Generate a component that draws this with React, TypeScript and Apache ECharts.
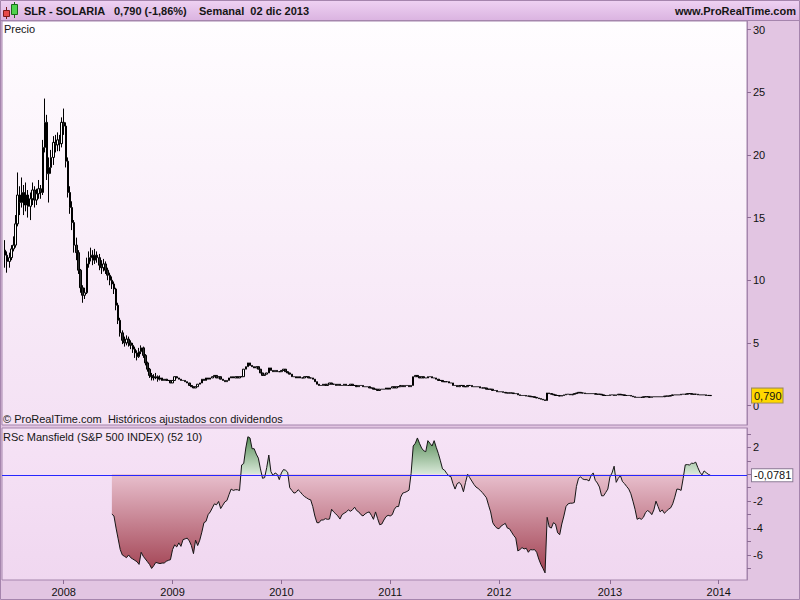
import React, { useEffect, useRef } from 'react';
import * as echarts from 'echarts';

// ---------- data ----------
const TICKER = 'SLR - SOLARIA';
const CHANGE_TEXT = '(-1,86%)';
const PERIOD_TEXT = 'Semanal  02 dic 2013';
const SITE = 'www.ProRealTime.com';
const PRICE_TITLE = 'Precio';
const FOOTNOTE = '\u00A9 ProRealTime.com  Hist\u00F3ricos ajustados con dividendos';
const RS_TITLE = 'RSc Mansfield (S&P 500 INDEX) (52 10)';

// weekly slots (Mondays); slot 0 is an empty slot before the first bar
const START_MONDAY = [2007, 5, 11];
const WEEK_SLOTS = 356;
const FIRST_BAR_SLOT = 1;
const YEAR_LABELS = ['2008', '2009', '2010', '2011', '2012', '2013', '2014'];

// weekly closes from 18 jun 2007 to 02 dic 2013
const CLOSES = [
  12.0, 11.5, 11.8, 12.5, 12.8, 14.5, 16.8, 16.2, 17.0, 16.0,
  16.8, 15.9, 16.5, 17.2, 16.4, 16.9, 17.3, 17.0, 20.6, 22.6,
  18.5, 19.0, 19.8, 21.0, 20.8, 21.2, 20.9, 22.6, 22.3, 19.5,
  17.0, 15.8, 14.6, 12.8, 12.2, 10.8, 9.4, 8.8, 9.0, 11.3,
  11.8, 12.0, 11.6, 12.0, 11.8, 11.2, 11.0, 11.3, 10.8, 10.4,
  10.0, 9.7, 9.3, 8.0, 6.8, 5.8, 5.2, 5.0, 5.3, 5.0,
  4.8, 4.5, 4.2, 3.9, 4.3, 4.6, 4.0, 3.4, 2.9, 2.4,
  2.3, 2.2, 2.3, 2.1, 2.2, 2.0, 2.1, 2.0, 2.0, 1.8,
  2.0, 2.3, 2.2, 2.1, 2.0, 2.0, 1.9, 1.8, 1.6, 1.5,
  1.4, 1.5, 1.7, 1.8, 2.1, 2.0, 2.2, 2.1, 2.2, 2.3,
  2.4, 2.2, 2.3, 2.1, 2.0, 1.9, 2.0, 2.2, 2.3, 2.2,
  2.3, 2.2, 2.3, 2.3, 2.9, 3.1, 3.4, 3.2, 3.1, 3.0,
  3.1, 2.9, 2.6, 2.4, 2.5, 2.6, 3.0, 2.8, 2.7, 2.8,
  2.7, 2.7, 2.8, 2.9, 2.7, 2.6, 2.5, 2.3, 2.3, 2.2,
  2.3, 2.2, 2.2, 2.3, 2.3, 2.2, 2.2, 2.1, 1.9, 1.7,
  1.6, 1.6, 1.7, 1.6, 1.7, 1.8, 1.7, 1.7, 1.6, 1.7,
  1.6, 1.6, 1.7, 1.6, 1.6, 1.7, 1.6, 1.6, 1.5, 1.6,
  1.6, 1.5, 1.5, 1.5, 1.4, 1.4, 1.3, 1.3, 1.2, 1.3,
  1.3, 1.3, 1.4, 1.3, 1.4, 1.5, 1.4, 1.5, 1.5, 1.6,
  1.5, 1.6, 1.6, 1.5, 1.6, 2.3, 2.4, 2.3, 2.2, 2.3,
  2.2, 2.2, 2.3, 2.3, 2.2, 2.2, 2.1, 2.0, 2.0, 1.9,
  1.9, 1.9, 1.8, 1.8, 1.6, 1.6, 1.5, 1.6, 1.6, 1.5,
  1.5, 1.6, 1.6, 1.5, 1.5, 1.5, 1.5, 1.4, 1.4, 1.4,
  1.3, 1.3, 1.3, 1.2, 1.2, 1.1, 1.1, 1.1, 1.05, 1.0,
  1.0, 1.0, 1.0, 0.95, 0.95, 0.85, 0.8, 0.8, 0.8, 0.75,
  0.75, 0.7, 0.7, 0.65, 0.6, 0.55, 0.5, 0.45, 0.4, 1.0,
  0.95, 0.9, 0.85, 0.8, 0.8, 0.75, 0.8, 0.85, 0.9, 0.9,
  0.85, 0.9, 0.95, 1.0, 1.05, 1.0, 1.0, 0.95, 0.95, 0.95,
  0.95, 0.95, 0.9, 0.9, 0.9, 0.85, 0.8, 0.8, 0.8, 0.85,
  0.85, 0.8, 0.85, 0.9, 0.85, 0.85, 0.8, 0.8, 0.8, 0.75,
  0.7, 0.65, 0.65, 0.65, 0.65, 0.7, 0.7, 0.7, 0.65, 0.7,
  0.7, 0.7, 0.7, 0.7, 0.7, 0.75, 0.75, 0.75, 0.8, 0.85,
  0.85, 0.85, 0.85, 0.9, 0.9, 0.9, 0.95, 0.95, 0.9, 0.9,
  0.9, 0.85, 0.85, 0.85, 0.85, 0.8, 0.805, 0.79,
];
const FIRST_OPEN = 12.4;
// highs / lows of the volatile first weeks (later bars have tiny wicks)
const HIGHS_EARLY = [
  13.2, 12.3, 12.2, 12.8, 13.5, 15.2, 18.6, 17.5, 18.2, 17.6,
  17.8, 17.2, 17.0, 17.8, 17.5, 17.3, 18.0, 17.6, 21.2, 24.5,
  23.2, 19.8, 20.4, 21.5, 21.6, 21.8, 21.6, 23.0, 23.7, 22.6,
  19.8, 17.5, 16.3, 14.8, 13.4, 12.4, 10.9, 9.6, 9.4, 11.8,
  12.3, 12.6, 12.4, 12.5, 12.3, 12.1, 11.6, 11.7, 11.5, 11.0,
  10.6, 10.3, 9.9, 9.4, 8.2, 7.0, 6.0, 5.5, 5.6, 5.5,
  5.2, 5.0, 4.7, 4.4, 4.6, 4.8, 4.7, 4.1, 3.5, 3.0,
  2.6, 2.5, 2.6, 2.4, 2.4,
];
const LOWS_EARLY = [
  11.0, 10.6, 11.0, 11.6, 12.3, 12.6, 14.3, 15.2, 15.8, 15.2,
  15.5, 15.0, 14.8, 16.0, 15.8, 16.0, 16.5, 16.5, 16.8, 20.2,
  18.0, 16.2, 18.5, 19.2, 20.2, 20.3, 20.3, 20.6, 21.6, 19.0,
  16.6, 15.3, 14.0, 12.2, 11.6, 10.5, 9.0, 8.2, 8.5, 8.9,
  11.0, 11.5, 11.2, 11.3, 11.4, 10.8, 10.5, 10.7, 10.5, 10.0,
  9.6, 9.3, 8.9, 7.6, 6.5, 5.5, 4.9, 4.7, 4.8, 4.7,
  4.5, 4.2, 3.8, 3.6, 3.8, 4.1, 3.8, 3.2, 2.7, 2.2,
  2.0, 2.0, 2.1, 1.9, 2.0,
];

// RSc Mansfield (52 10), starts at bar 51
const RS_START_BAR = 51;
const RS_VALUES = [
  -2.96, -3.1, -4.0, -4.8, -5.6, -6.0, -6.1, -6.2, -6.0, -6.2,
  -6.3, -6.4, -6.5, -6.7, -5.8, -6.1, -6.3, -6.5, -6.7, -7.0,
  -6.8, -6.55, -6.6, -6.64, -6.6, -6.6, -6.47, -6.4, -6.35, -5.6,
  -5.25, -5.4, -5.1, -5.36, -4.86, -4.8, -4.75, -4.95, -5.3, -5.9,
  -4.9, -5.3, -4.9, -4.3, -3.6, -3.5, -3.0, -2.8, -2.5, -2.2,
  -2.27, -2.02, -2.55, -2.3, -2.05, -1.95, -1.5, -1.1, -1.2, -1.15,
  -1.15, -1.21, 0.69, 0.8, 1.95, 2.79, 2.7, 1.9, 1.9, 1.5,
  1.2, 0.4, -0.3, -0.25, 0.5, 1.43, 0.2, -0.1, 0.1, 0.0,
  -0.4, 0.1, 0.35, 0.3, 0.15, -1.0, -1.2, -1.4, -1.35, -1.15,
  -1.3, -1.5, -1.65, -1.75, -1.85, -1.9, -2.4, -3.1, -3.6, -3.6,
  -3.4, -3.4, -3.3, -3.35, -3.33, -2.6, -2.8, -2.95, -3.1, -3.33,
  -3.0, -2.9, -2.8, -2.65, -2.75, -2.64, -2.45, -2.7, -2.8, -3.0,
  -3.1, -2.95, -2.85, -2.8, -3.05, -3.35, -2.8, -3.3, -3.75, -3.7,
  -3.4, -3.15, -3.05, -3.1, -3.0, -2.6, -2.4, -2.4, -1.7, -1.4,
  -1.35, -1.28, -1.18, 0.07, 2.1, 2.3, 2.7, 2.3, 1.95, 1.75,
  1.68, 2.5, 2.3, 2.1, 2.5, 2.0, 1.55, 1.0, 0.4, 0.3,
  0.07, -0.12, -0.17, -0.7, -1.1, -0.7, -0.6, -0.8, -1.3, -0.6,
  0.0, -0.25, -0.5, -0.75, -0.95, -1.05, -1.2, -1.35, -1.55, -1.75,
  -2.3, -2.8, -3.6, -3.85, -4.0, -4.05, -3.85, -3.75, -3.65, -4.0,
  -4.05, -4.3, -4.55, -4.74, -5.7, -5.6, -5.45, -5.55, -5.5, -5.8,
  -5.6, -5.62, -5.6, -5.8, -6.3, -6.7, -7.0, -7.33, -3.2, -3.92,
  -4.0, -3.6, -3.7, -4.35, -4.49, -3.7, -3.1, -2.4, -2.2, -2.15,
  -2.15, -2.1, -0.9, -0.3, -0.2, -0.35, -0.4, -0.4, -0.5, -0.1,
  0.1, -0.45, -0.65, -0.95, -1.6, -1.6, -1.35, -1.1, -0.2, 0.1,
  0.6, -0.6, -0.3, -0.1, -0.55, -0.7, -0.91, -1.1, -1.45, -2.0,
  -2.6, -3.35, -3.26, -3.35, -3.2, -2.85, -2.7, -2.8, -3.0, -2.65,
  -2.0, -2.4, -2.8, -2.65, -2.9, -2.75, -2.6, -2.5, -2.2, -1.7,
  -1.1, -1.12, -1.2, -0.3, 0.7, 0.72, 0.69, 0.82, 0.81, 0.9,
  0.5, 0.15, -0.05, 0.25, 0.12, 0.0, -0.0781,
];

const LAST_PRICE = CLOSES[CLOSES.length - 1];
const LAST_RS = RS_VALUES[RS_VALUES.length - 1];

// axis ranges (layout of the two panels)
const PRICE_MIN = -1.556;
const PRICE_MAX = 30.69;
const RS_MIN = -7.86;
const RS_MAX = 3.44;

const FONT = 'Liberation Sans';
const FRAME = '#a585ad';
const BLUE = '#2626ff';
const GRID2 = { left: 2, top: 428, width: 745, height: 152 };

const DAY = 86400000;
const START_MS = Date.UTC(START_MONDAY[0], START_MONDAY[1], START_MONDAY[2]);

function buildOption() {
  const categories: string[] = [];
  const yearOf: string[] = [];
  for (let k = 0; k < WEEK_SLOTS; k++) {
    const d = new Date(START_MS + k * 7 * DAY);
    categories.push(d.toISOString().slice(0, 10));
    const end = new Date(START_MS + (k * 7 + 6) * DAY);
    const isYearWeek = end.getUTCMonth() === 0 && end.getUTCDate() <= 7;
    yearOf.push(isYearWeek ? String(end.getUTCFullYear()) : '');
  }
  const showYear = (idx: number) => YEAR_LABELS.indexOf(yearOf[idx]) >= 0;

  const candles: any[] = [];
  const rs: any[] = [];
  for (let k = 0; k < WEEK_SLOTS; k++) {
    const i = k - FIRST_BAR_SLOT;
    if (i < 0 || i >= CLOSES.length) {
      candles.push(['-', '-', '-', '-']);
    } else {
      const open = i === 0 ? FIRST_OPEN : CLOSES[i - 1];
      const close = CLOSES[i];
      const hi = Math.max(open, close, i < HIGHS_EARLY.length ? HIGHS_EARLY[i] : 0);
      const lo = Math.min(open, close, i < LOWS_EARLY.length ? LOWS_EARLY[i] : 1e9);
      candles.push([open, close, lo, hi]);
    }
    const j = i - RS_START_BAR;
    rs.push(j >= 0 && j < RS_VALUES.length ? RS_VALUES[j] : '-');
  }

  const comma = (v: number, d: number) => v.toFixed(d).replace('.', ',');

  const areaGrad = new echarts.graphic.LinearGradient(
    0, 428, 0, 580,
    [
      { offset: 0, color: '#3a783a' },
      { offset: 0.304, color: '#d9e9d9' },
      { offset: 0.305, color: '#e8bfcd' },
      { offset: 1, color: '#9c3848' },
    ],
    true
  );

  const headerText = (x: number, text: string, align: string) => ({
    type: 'text', z: 55, silent: true, x, y: 11,
    style: { text, fill: '#151515', fontSize: 11, fontWeight: 'bold', fontFamily: FONT, verticalAlign: 'middle', align },
  });

  return {
    animation: false,
    backgroundColor: '#e2c5e2',
    textStyle: { fontFamily: FONT },
    grid: [
      {
        left: 2, top: 21, width: 745, height: 404, show: true,
        backgroundColor: new echarts.graphic.LinearGradient(0, 0, 0, 1, [
          { offset: 0, color: '#fffdff' },
          { offset: 1, color: '#f4e1f4' },
        ]),
        borderColor: FRAME, borderWidth: 1,
      },
      {
        ...GRID2, show: true,
        backgroundColor: new echarts.graphic.LinearGradient(0, 0, 0, 1, [
          { offset: 0, color: '#f6e3f6' },
          { offset: 1, color: '#f0d7f0' },
        ]),
        borderColor: FRAME, borderWidth: 1,
      },
    ],
    xAxis: [
      {
        type: 'category', gridIndex: 0, data: categories, boundaryGap: true,
        axisLine: { show: false, onZero: false }, axisTick: { show: false }, axisLabel: { show: false },
        splitLine: { show: false },
      },
      {
        type: 'category', gridIndex: 1, data: categories, boundaryGap: true, position: 'bottom',
        axisLine: { show: false, onZero: false },
        axisTick: {
          show: true, alignWithLabel: true, length: 4,
          interval: (idx: number) => showYear(idx),
          lineStyle: { color: '#8c6c94' },
        },
        axisLabel: {
          interval: (idx: number) => showYear(idx),
          formatter: (_v: string, idx: number) => yearOf[idx],
          color: '#111', fontSize: 11, fontFamily: FONT, margin: 6,
        },
        splitLine: { show: false },
      },
    ],
    yAxis: [
      {
        type: 'value', gridIndex: 0, position: 'right', min: PRICE_MIN, max: PRICE_MAX,
        splitNumber: 6,
        axisLine: { show: true, lineStyle: { color: FRAME } },
        axisTick: { show: true, length: 4, lineStyle: { color: '#8c6c94' } },
        axisLabel: {
          showMinLabel: false, showMaxLabel: false,
          color: '#111', fontSize: 11, fontFamily: FONT, margin: 6,
        },
        splitLine: { show: false },
      },
      {
        type: 'value', gridIndex: 1, position: 'right', min: RS_MIN, max: RS_MAX,
        splitNumber: 11,
        axisLine: { show: true, lineStyle: { color: FRAME } },
        axisTick: { show: true, length: 4, lineStyle: { color: '#8c6c94' } },
        axisLabel: {
          showMinLabel: false, showMaxLabel: false,
          formatter: (v: number) => (Number.isInteger(v) && v !== 0 && v % 2 === 0 ? String(v) : ''),
          color: '#111', fontSize: 11, fontFamily: FONT, margin: 6,
        },
        splitLine: { show: false },
      },
    ],
    series: [
      {
        type: 'candlestick', xAxisIndex: 0, yAxisIndex: 0, data: candles,
        barWidth: 2,
        itemStyle: {
          color: '#ffffff', color0: '#2e2e2e',
          borderColor: '#000000', borderColor0: '#000000', borderColorDoji: '#000000',
          borderWidth: 1,
        },
        markLine: {
          silent: true, symbol: 'none', animation: false,
          lineStyle: { color: 'rgba(0,0,0,0)', width: 0 },
          label: {
            show: true, position: 'end', distance: 5,
            formatter: () => comma(LAST_PRICE, 3),
            backgroundColor: '#ffd700', borderColor: '#9c8a5a', borderWidth: 1,
            padding: [2, 1, 1, 2], color: '#111', fontSize: 11, fontFamily: FONT,
          },
          data: [{ yAxis: LAST_PRICE }],
        },
      },
      {
        type: 'line', xAxisIndex: 1, yAxisIndex: 1, data: rs,
        showSymbol: false, symbol: 'none',
        lineStyle: { color: '#151515', width: 1 },
        areaStyle: { color: areaGrad, opacity: 1 },
        markLine: {
          silent: true, symbol: 'none', animation: false,
          lineStyle: { color: 'rgba(0,0,0,0)', width: 0 },
          label: {
            show: true, position: 'end', distance: 5,
            formatter: () => comma(LAST_RS, 4),
            backgroundColor: '#ffffff', borderColor: '#8a7a94', borderWidth: 1,
            padding: [1, 1, 0, 2], color: '#111', fontSize: 11, fontFamily: FONT,
          },
          data: [{ yAxis: LAST_RS }],
        },
      },
    ],
    graphic: [
      {
        type: 'rect', z: 50, silent: true,
        shape: { x: 0, y: 0, width: 800, height: 20 },
        style: {
          fill: new echarts.graphic.LinearGradient(0, 0, 0, 1, [
            { offset: 0, color: '#efd2f3' },
            { offset: 1, color: '#dbb4e1' },
          ]),
        },
      },
      { type: 'line', z: 51, silent: true, shape: { x1: 0, y1: 20.5, x2: 800, y2: 20.5 }, style: { stroke: FRAME, lineWidth: 1 } },
      { type: 'rect', z: 60, silent: true, shape: { x: 0.5, y: 0.5, width: 799, height: 599 }, style: { fill: 'none', stroke: FRAME, lineWidth: 1 } },
      // header icon
      { type: 'line', z: 52, silent: true, shape: { x1: 6.5, y1: 7, x2: 6.5, y2: 19 }, style: { stroke: '#7a1a1a', lineWidth: 1 } },
      { type: 'rect', z: 53, silent: true, shape: { x: 3.5, y: 10.5, width: 6, height: 6 }, style: { fill: '#e64a4a', stroke: '#7a1a1a', lineWidth: 1 } },
      { type: 'line', z: 52, silent: true, shape: { x1: 14.5, y1: 2, x2: 14.5, y2: 18 }, style: { stroke: '#1a6a1a', lineWidth: 1 } },
      { type: 'rect', z: 53, silent: true, shape: { x: 11.5, y: 4.5, width: 6, height: 10 }, style: { fill: '#4ed24e', stroke: '#1a6a1a', lineWidth: 1 } },
      // header texts
      headerText(24, TICKER, 'left'),
      headerText(114, comma(LAST_PRICE, 3) + ' ' + CHANGE_TEXT, 'left'),
      headerText(199, PERIOD_TEXT, 'left'),
      headerText(796, SITE, 'right'),
      // panel titles
      { type: 'text', z: 55, silent: true, x: 4, y: 28.5, style: { text: PRICE_TITLE, fill: '#151515', fontSize: 11, fontFamily: FONT, verticalAlign: 'middle', align: 'left' } },
      { type: 'text', z: 55, silent: true, x: 3, y: 418.5, style: { text: FOOTNOTE, fill: '#151515', fontSize: 11, fontFamily: FONT, verticalAlign: 'middle', align: 'left' } },
      { type: 'text', z: 55, silent: true, x: 3, y: 436.5, style: { text: RS_TITLE, fill: '#151515', fontSize: 11, fontFamily: FONT, verticalAlign: 'middle', align: 'left' } },
    ],
  };
}

export default function App() {
  const ref = useRef<HTMLDivElement>(null);
  useEffect(() => {
    document.body.style.margin = '0';
    const chart = echarts.init(ref.current as HTMLDivElement, undefined, { renderer: 'svg', width: 800, height: 600 });
    chart.setOption(buildOption() as any);
    // last-value reference line of the indicator, placed through the indicator's own y scale
    const py = chart.convertToPixel({ yAxisIndex: 1 }, LAST_RS) as number;
    const yLine = Math.round(py) + 0.5;
    chart.setOption({
      graphic: [
        {
          id: 'rs-last-line', type: 'line', z: 20, silent: true,
          shape: { x1: GRID2.left, y1: yLine, x2: GRID2.left + GRID2.width, y2: yLine },
          style: { stroke: BLUE, lineWidth: 1 },
        },
      ],
    });
    return () => chart.dispose();
  }, []);
  return <div ref={ref} style={{ width: 800, height: 600 }} />;
}
